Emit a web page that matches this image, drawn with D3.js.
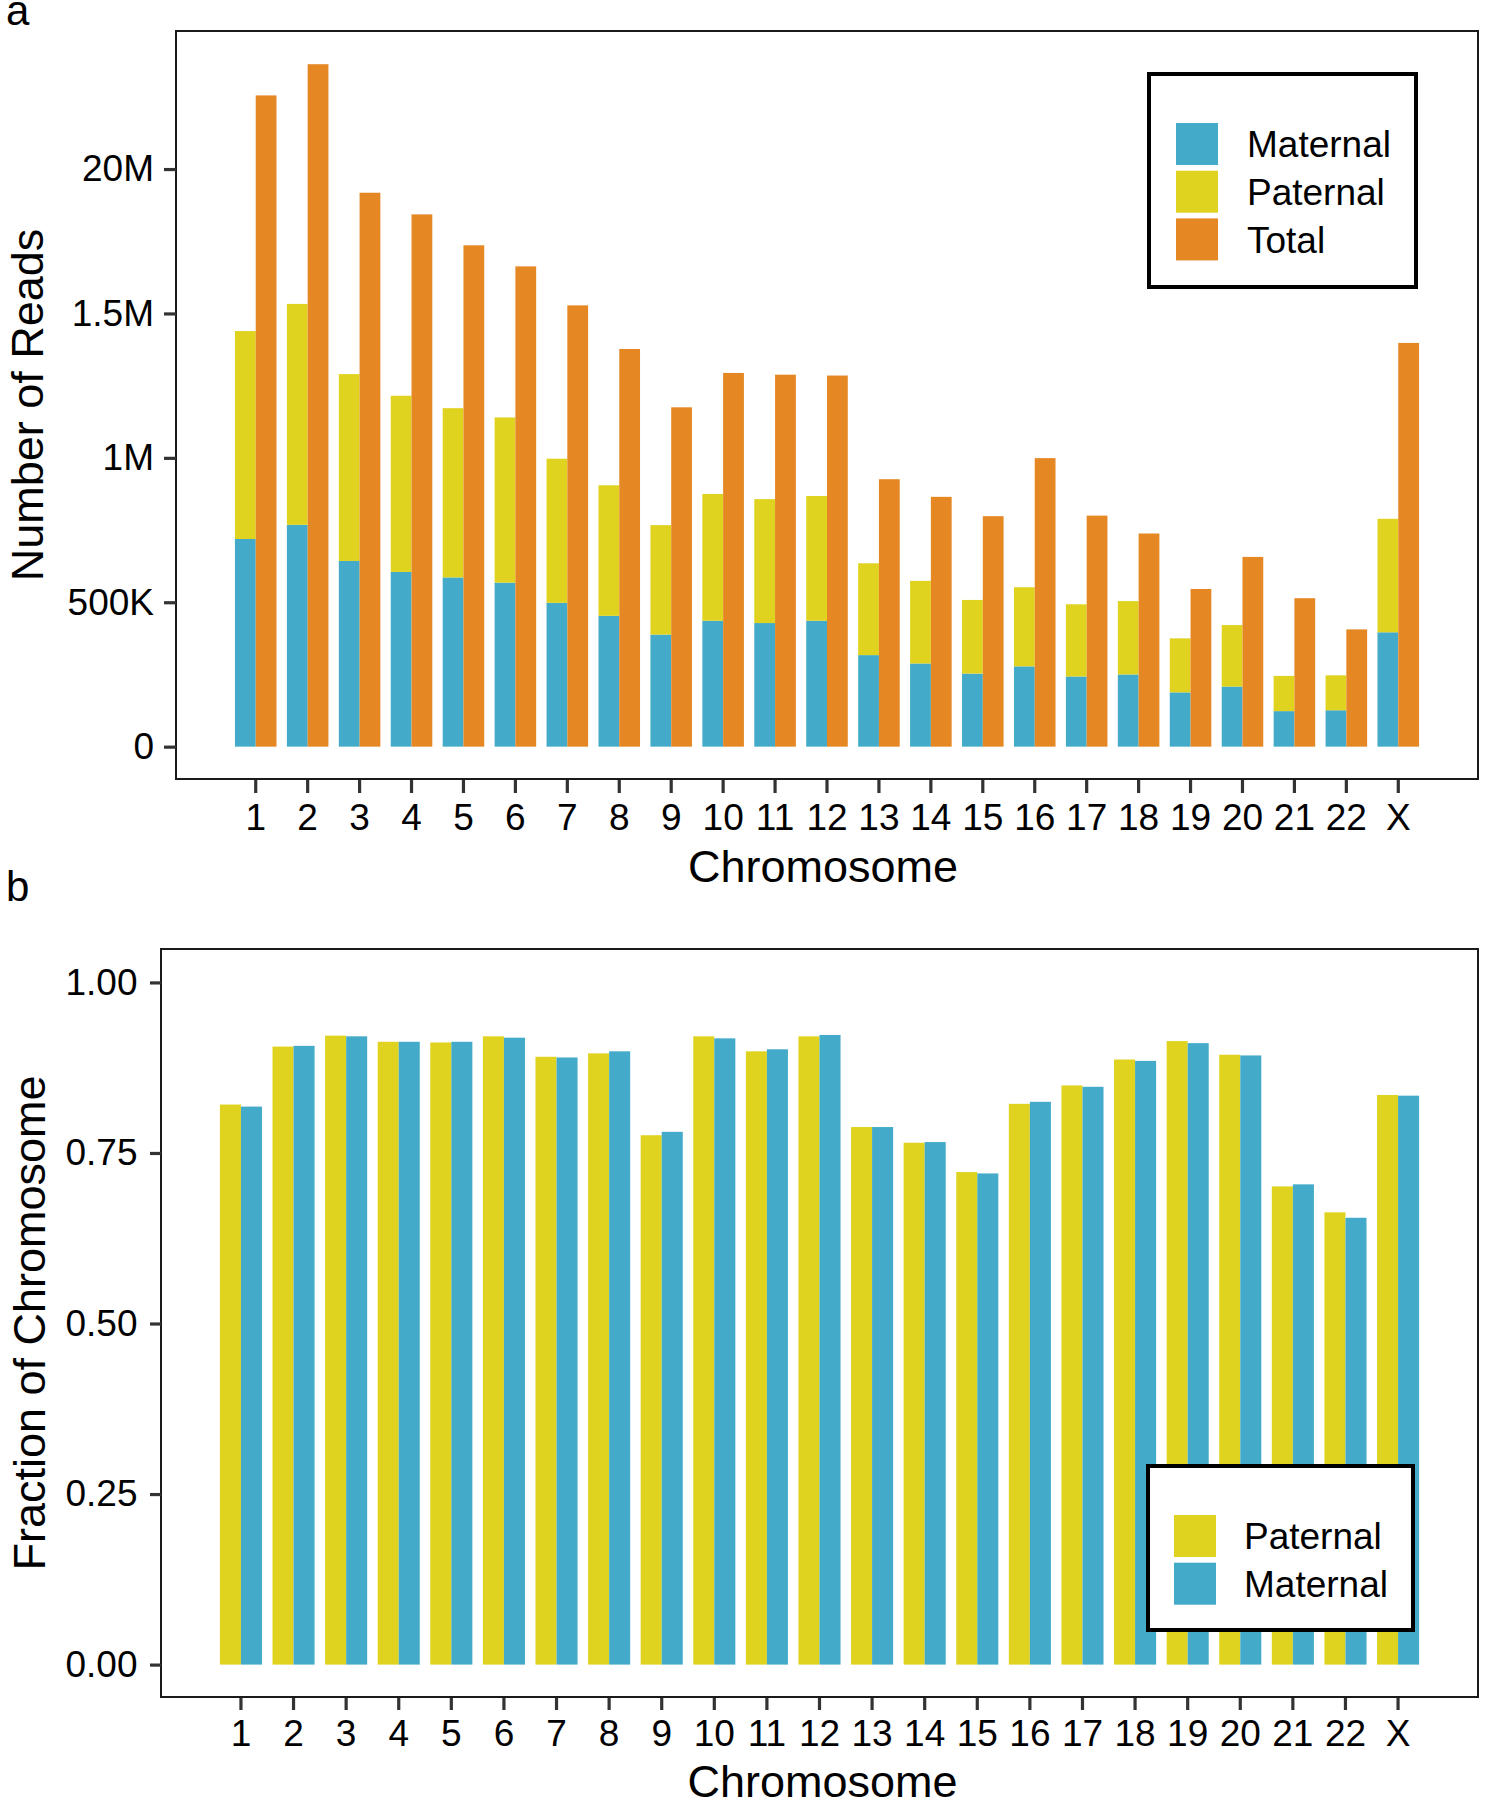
<!DOCTYPE html>
<html>
<head>
<meta charset="utf-8">
<script src="https://cdn.jsdelivr.net/npm/d3@7"></script>
<style>
  body { margin: 0; background: #fff; }
  text { font-family: "Liberation Sans", Arial, Helvetica, sans-serif; fill: #000; }
</style>
</head>
<body>
<div id="chart"></div>
<script>
var chromosomes = ["1","2","3","4","5","6","7","8","9","10","11","12","13","14","15","16","17","18","19","20","21","22","X"];

// panel a - reads per chromosome
var maternalReads = [719000, 768000, 643000, 605000, 586000, 568000, 498000, 453000, 388000, 436000, 428000, 436000,
                     317000, 288000, 253000, 278000, 243000, 250000, 188000, 208000, 123000, 126000, 396000];
var paternalReads = [720000, 765000, 647000, 610000, 586000, 572000, 499000, 452000, 379000, 439000, 429000, 432000,
                     318000, 286000, 255000, 274000, 250000, 254000, 187000, 213000, 122000, 121000, 393000];
var totalReads    = [2255000, 2363000, 1918000, 1843000, 1736000, 1663000, 1528000, 1377000, 1175000, 1294000, 1288000, 1285000,
                     926000, 865000, 798000, 999000, 800000, 738000, 546000, 657000, 514000, 406000, 1398000];
var yTicksA = [0, 500000, 1000000, 1500000, 2000000];
var yTickLabelsA = ["0", "500K", "1M", "1.5M", "20M"];
var legendA = ["Maternal", "Paternal", "Total"];

// panel b - fraction of chromosome
var paternalFrac = [0.821, 0.906, 0.922, 0.913, 0.912, 0.921, 0.891, 0.896, 0.776, 0.921, 0.899, 0.921,
                    0.788, 0.765, 0.722, 0.822, 0.849, 0.887, 0.914, 0.894, 0.701, 0.663, 0.835];
var maternalFrac = [0.818, 0.907, 0.921, 0.913, 0.913, 0.919, 0.890, 0.899, 0.781, 0.918, 0.902, 0.923,
                    0.788, 0.766, 0.720, 0.825, 0.847, 0.885, 0.911, 0.893, 0.704, 0.655, 0.834];
var yTicksB = [0, 0.25, 0.5, 0.75, 1];
var legendB = ["Paternal", "Maternal"];

var colors = {Maternal: "#43abc9", Paternal: "#e0d31f", Total: "#e58723"};

var svg = d3.select("#chart")
            .append("svg")
            .attr("width", 1485)
            .attr("height", 1800);

function styleAxis(g) {
    g.select(".domain").remove();
    g.selectAll(".tick line").attr("stroke", "#333").attr("stroke-width", 3.2);
    g.selectAll(".tick text").attr("font-size", "37px").attr("fill", "#000");
}

function drawLegend(box, items) {
    var lg = svg.append("g");
    lg.append("rect")
        .attr("x", box.x).attr("y", box.y)
        .attr("width", box.w).attr("height", box.h)
        .attr("fill", "#fff")
        .attr("stroke", "#000")
        .attr("stroke-width", 4);
    var rows = lg.selectAll("g.item")
        .data(items)
        .enter()
        .append("g")
        .attr("class", "item")
        .attr("transform", function(d, i) { return "translate(" + box.keyX + "," + (box.keyY + i * 47.7) + ")"; });
    rows.append("rect")
        .attr("width", 42).attr("height", 42)
        .attr("fill", function(d) { return colors[d]; });
    rows.append("text")
        .attr("x", box.textX - box.keyX)
        .attr("y", 21)
        .attr("dy", "0.36em")
        .attr("font-size", "37px")
        .text(function(d) { return d; });
}

// ---------- panel a ----------
var frameA = {x: 176, y: 31, w: 1302, h: 748};

var xA = d3.scaleBand()
    .domain(chromosomes)
    .range([frameA.x, frameA.x + frameA.w])
    .paddingInner(0.2)
    .paddingOuter(1.135);
var subA = d3.scaleBand().domain(["stack", "total"]).range([0, xA.bandwidth()]);
var yA = d3.scaleLinear().domain([-112000, 2478000]).range([frameA.y + frameA.h, frameA.y]);

var rowsA = chromosomes.map(function(c, i) {
    return {chr: c, Maternal: maternalReads[i], Paternal: paternalReads[i], Total: totalReads[i]};
});
var stackA = d3.stack().keys(["Maternal", "Paternal"])(rowsA);

svg.append("g").selectAll("g")
    .data(stackA)
    .enter()
    .append("g")
    .attr("fill", function(d) { return colors[d.key]; })
    .selectAll("rect")
    .data(function(d) { return d; })
    .enter()
    .append("rect")
    .attr("x", function(d) { return xA(d.data.chr) + subA("stack"); })
    .attr("width", subA.bandwidth())
    .attr("y", function(d) { return yA(d[1]); })
    .attr("height", function(d) { return yA(d[0]) - yA(d[1]); });

svg.append("g").selectAll("rect")
    .data(rowsA)
    .enter()
    .append("rect")
    .attr("fill", colors.Total)
    .attr("x", function(d) { return xA(d.chr) + subA("total"); })
    .attr("width", subA.bandwidth())
    .attr("y", function(d) { return yA(d.Total); })
    .attr("height", function(d) { return yA(0) - yA(d.Total); });

svg.append("rect")
    .attr("x", frameA.x).attr("y", frameA.y)
    .attr("width", frameA.w).attr("height", frameA.h)
    .attr("fill", "none").attr("stroke", "#1a1a1a").attr("stroke-width", 2);

svg.append("g")
    .attr("transform", "translate(" + frameA.x + ",0)")
    .call(d3.axisLeft(yA).tickValues(yTicksA).tickSize(12).tickPadding(10)
        .tickFormat(function(d, i) { return yTickLabelsA[i]; }))
    .call(styleAxis);

svg.append("g")
    .attr("transform", "translate(0," + (frameA.y + frameA.h + 1) + ")")
    .call(d3.axisBottom(xA).tickSize(13).tickPadding(10.5))
    .call(styleAxis);

svg.append("text")
    .attr("transform", "translate(43," + (frameA.y + frameA.h / 2) + ") rotate(-90)")
    .attr("text-anchor", "middle")
    .attr("font-size", "45px")
    .text("Number of Reads");

svg.append("text")
    .attr("x", frameA.x + frameA.w / 2 - 4).attr("y", 882)
    .attr("text-anchor", "middle")
    .attr("font-size", "45px")
    .text("Chromosome");

svg.append("text").attr("x", 6).attr("y", 25).attr("font-size", "42px").text("a");

drawLegend({x: 1149, y: 74, w: 267, h: 213, keyX: 1176, keyY: 123, textX: 1247}, legendA);

// ---------- panel b ----------
var frameB = {x: 161, y: 949, w: 1317, h: 748};

var xB = d3.scaleBand()
    .domain(chromosomes)
    .range([frameB.x, frameB.x + frameB.w])
    .paddingInner(0.2)
    .paddingOuter(1.12);
var subB = d3.scaleBand().domain(legendB).range([0, xB.bandwidth()]);
var yB = d3.scaleLinear().domain([-0.0475, 1.049]).range([frameB.y + frameB.h, frameB.y]);

var rowsB = chromosomes.map(function(c, i) {
    return {chr: c, Paternal: paternalFrac[i], Maternal: maternalFrac[i]};
});

svg.append("g").selectAll("g")
    .data(rowsB)
    .enter()
    .append("g")
    .attr("transform", function(d) { return "translate(" + xB(d.chr) + ",0)"; })
    .selectAll("rect")
    .data(function(d) { return legendB.map(function(k) { return {key: k, value: d[k]}; }); })
    .enter()
    .append("rect")
    .attr("fill", function(d) { return colors[d.key]; })
    .attr("x", function(d) { return subB(d.key); })
    .attr("width", subB.bandwidth())
    .attr("y", function(d) { return yB(d.value); })
    .attr("height", function(d) { return yB(0) - yB(d.value); });

svg.append("rect")
    .attr("x", frameB.x).attr("y", frameB.y)
    .attr("width", frameB.w).attr("height", frameB.h)
    .attr("fill", "none").attr("stroke", "#1a1a1a").attr("stroke-width", 2);

svg.append("g")
    .attr("transform", "translate(" + frameB.x + ",0)")
    .call(d3.axisLeft(yB).tickValues(yTicksB).tickSize(11).tickPadding(12.5)
        .tickFormat(function(d) { return d.toFixed(2); }))
    .call(styleAxis);

svg.append("g")
    .attr("transform", "translate(0," + (frameB.y + frameB.h + 1) + ")")
    .call(d3.axisBottom(xB).tickSize(12).tickPadding(9.5))
    .call(styleAxis);

svg.append("text")
    .attr("transform", "translate(45," + (frameB.y + frameB.h / 2) + ") rotate(-90)")
    .attr("text-anchor", "middle")
    .attr("font-size", "45px")
    .text("Fraction of Chromosome");

svg.append("text")
    .attr("x", frameB.x + frameB.w / 2 + 3).attr("y", 1797)
    .attr("text-anchor", "middle")
    .attr("font-size", "45px")
    .text("Chromosome");

svg.append("text").attr("x", 6).attr("y", 901).attr("font-size", "42px").text("b");

drawLegend({x: 1148, y: 1466, w: 265, h: 164, keyX: 1174, keyY: 1515, textX: 1244}, legendB);
</script>
</body>
</html>
